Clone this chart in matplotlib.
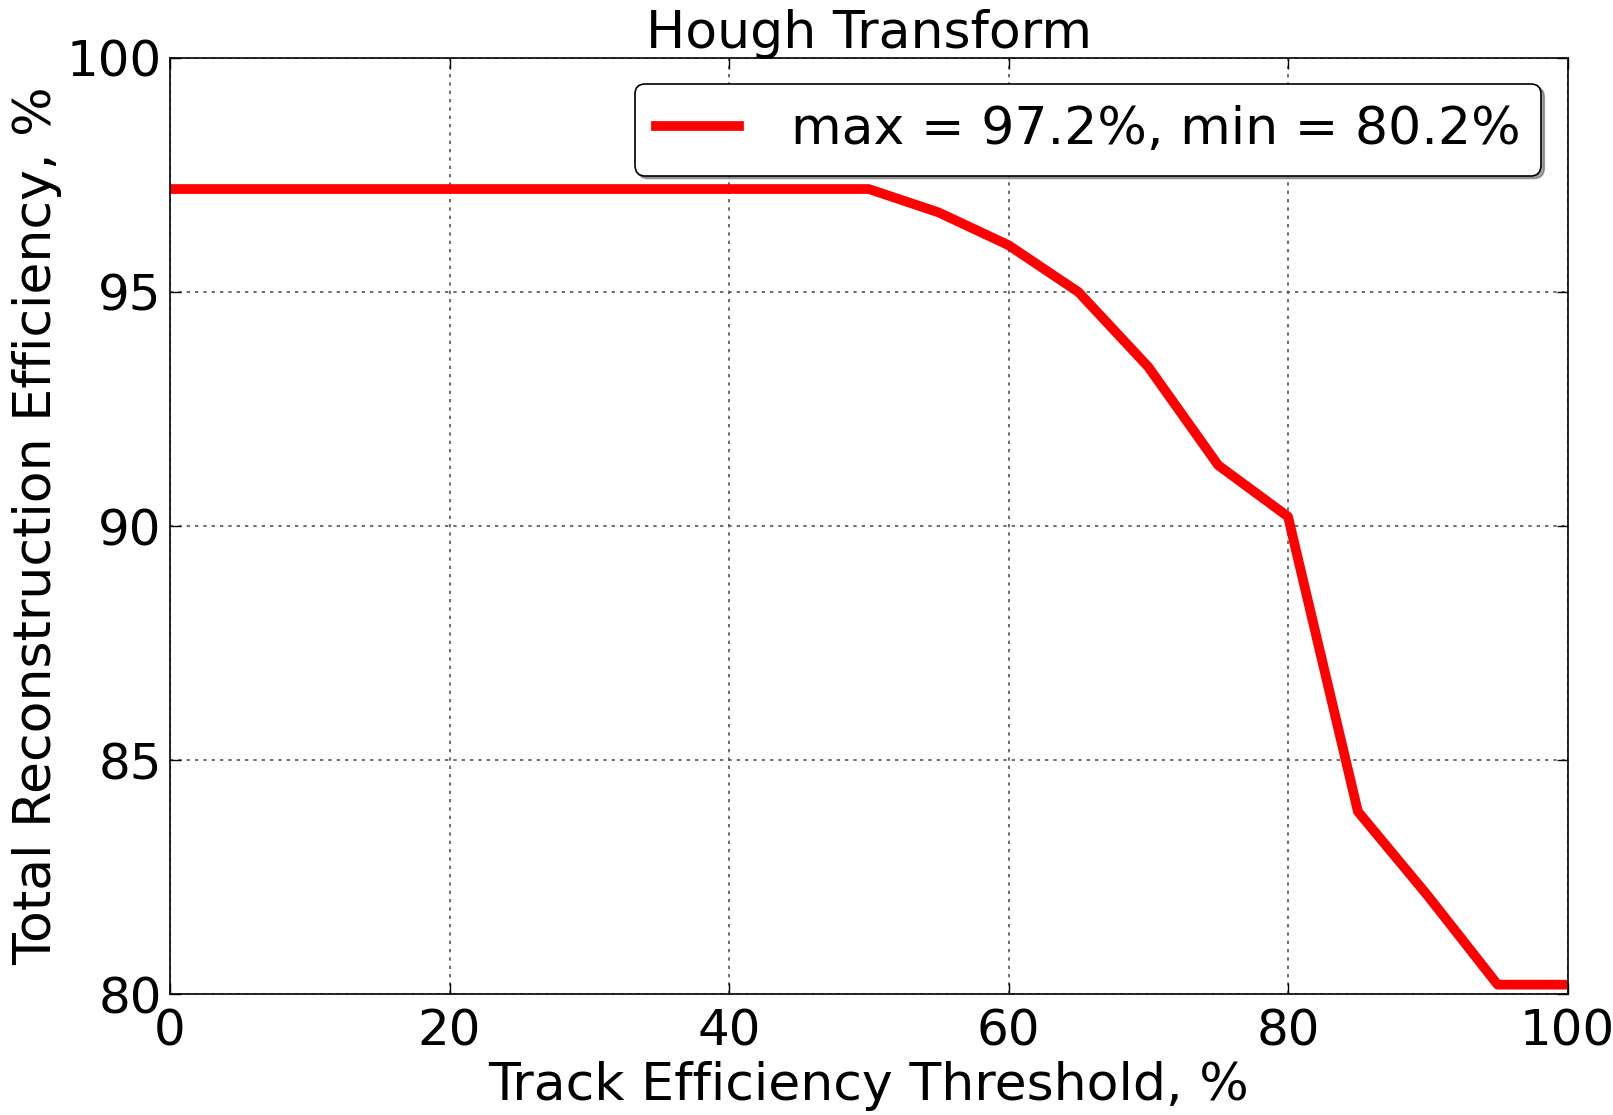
import matplotlib
matplotlib.use('Agg')
import matplotlib.pyplot as plt
import numpy as np

# Datos
umbral = [0, 5, 10, 15, 20, 25, 30, 35, 40, 45, 50, 55, 60, 65, 70, 75, 80, 85, 90, 95, 100]
eficiencia = [97.2, 97.2, 97.2, 97.2, 97.2, 97.2, 97.2, 97.2, 97.2, 97.2, 97.2,
              96.7, 96.0, 95.0, 93.4, 91.3, 90.2, 83.9, 82.1, 80.2, 80.2]
x_ticks = [0, 20, 40, 60, 80, 100]
y_ticks = [80, 85, 90, 95, 100]

plt.rcParams['font.family'] = 'DejaVu Sans'

fig = plt.figure(figsize=(16.13, 11.15), dpi=100, facecolor='white')
ax = fig.add_axes([0.1054, 0.1085, 0.8664, 0.8395])

etiqueta = 'max = %.1f%%, min = %.1f%%' % (max(eficiencia), min(eficiencia))
ax.plot(umbral, eficiencia, color='red', linewidth=7, label=etiqueta)

ax.set_xlim(0, 100)
ax.set_ylim(80, 100)
ax.set_xticks(x_ticks)
ax.set_yticks(y_ticks)
ax.tick_params(direction='in', top=True, right=True, length=8, width=1,
               labelsize=36)
ax.tick_params(axis='x', pad=10)
ax.tick_params(axis='y', pad=6)
ax.grid(True, color='#555555', linestyle=(0, (2, 3)), linewidth=1.2)

ax.set_title('Hough Transform', fontsize=37.5, pad=7)
ax.set_xlabel('Track Efficiency Threshold, %', fontsize=37.5, labelpad=4)
ax.set_ylabel('Total Reconstruction Efficiency, %', fontsize=37.5, labelpad=3)

leg = ax.legend(loc='upper right', fontsize=37.5, fancybox=True, shadow=True,
                handlelength=1.6, handletextpad=1.0, borderpad=0.4,
                borderaxespad=0.5, framealpha=1)
leg.get_frame().set_edgecolor('black')
leg.get_frame().set_linewidth(1.2)

for s in ax.spines.values():
    s.set_linewidth(1.2)

plt.savefig('out.png', dpi=100)
